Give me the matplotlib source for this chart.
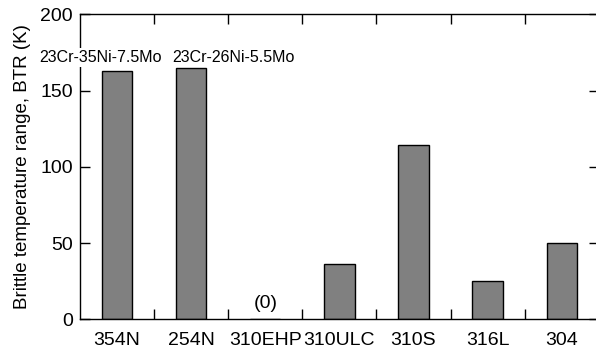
import numpy as np
import matplotlib
matplotlib.use("Agg")
import matplotlib.pyplot as plt

plt.rcParams['font.family'] = ['Liberation Sans', 'DejaVu Sans']

# data
alloys = ["354N", "254N", "310EHP", "310ULC", "310S", "316L", "304"]
btr = [163, 165, 0, 36, 114, 25, 50]
notes = ["23Cr-35Ni-7.5Mo", "23Cr-26Ni-5.5Mo"]

x = np.arange(len(alloys))

fig = plt.figure(figsize=(5.96, 3.51), dpi=100)
ax = fig.add_axes([0.1342, 0.0903, 0.8705, 0.869])

ax.bar(x, btr, width=0.41, color="#808080", edgecolor="black", linewidth=1.0, zorder=2)

ax.set_xlim(-0.5, len(alloys) - 0.5)
ax.set_ylim(0, 200)

# boundary ticks (no labels), labels at bar centres
ax.set_xticks(x[:-1] + 0.5)
ax.set_xticklabels([])
ax.set_xticks(x, minor=True)
ax.set_xticklabels(alloys, minor=True, fontsize=14)
ax.tick_params(axis="x", which="major", direction="in", length=7, width=1, top=True)
ax.tick_params(axis="x", which="minor", length=0, pad=9)

ax.set_yticks([0, 50, 100, 150, 200])
ax.tick_params(axis="y", direction="in", length=7, width=1, right=True, labelsize=14, pad=5)

for s in ax.spines.values():
    s.set_linewidth(1.0)

ax.set_ylabel("Brittle temperature range, BTR (K)", fontsize=13.5, labelpad=7)

# composition notes and the zero label
ax.text(-0.22, 171.5, notes[0], ha="center", va="center", fontsize=11.5,
        bbox=dict(facecolor="white", edgecolor="none", pad=1.5), zorder=5, clip_on=False)
ax.text(1.57, 171.5, notes[1], ha="center", va="center", fontsize=11.5,
        bbox=dict(facecolor="white", edgecolor="none", pad=1.5), zorder=5)
ax.text(2, 10.4, "(0)", ha="center", va="center", fontsize=14)

fig.savefig("out.png", dpi=100)
